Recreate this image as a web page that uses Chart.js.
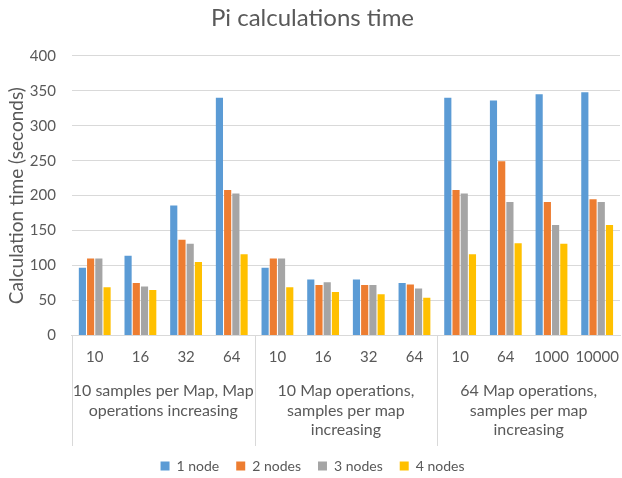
<!DOCTYPE html>
<html lang="en">
  <head>
    <meta charset="UTF-8" />
    <title>Pi calculations time</title>
    <script src="https://cdn.jsdelivr.net/npm/chart.js"></script>
    <style>
      html, body {
        margin: 0;
        padding: 0;
        background: #fff;
      }
      .wrap {
        width: 622px;
        height: 478px;
        position: relative;
      }
    </style>
  </head>
  <body>
    <div class="wrap">
      <canvas id="piChart"></canvas>
    </div>

    <script>
      // Categories (inner level) and groups (outer level)
      const labels = ["10", "16", "32", "64", "10", "16", "32", "64", "10", "64", "1000", "10000"];
      const groupLabels = [
        ["10 samples per Map, Map", "operations increasing"],
        ["10 Map operations,", "samples per map", "increasing"],
        ["64 Map operations,", "samples per map", "increasing"],
      ];
      const groupSize = 4;

      // Calculation time in seconds
      const node1 = [97, 114, 186, 340, 97, 80, 80, 75, 340, 336, 345, 348];
      const node2 = [110, 75, 137, 208, 110, 72, 72, 73, 208, 249, 191, 195];
      const node3 = [110, 70, 131, 203, 110, 76, 72, 67, 203, 191, 158, 191];
      const node4 = [69, 65, 105, 116, 69, 62, 59, 54, 116, 132, 131, 158];

      const yTicks = { min: 0, max: 400, step: 50 };

      const textColor = "#595959";
      const lineColor = "#d9d9d9";
      const fontFamily = "Lato, 'Open Sans', sans-serif";

      // Lines between the outer category groups, as in Excel
      const groupDividers = {
        id: "groupDividers",
        afterDraw(chart) {
          const x = chart.scales.x;
          const x2 = chart.scales.x2;
          const half = (x.getPixelForValue(1) - x.getPixelForValue(0)) / 2;
          const ctx = chart.ctx;
          ctx.save();
          ctx.strokeStyle = lineColor;
          ctx.lineWidth = 1;
          for (let i = 0; i < labels.length; i += groupSize) {
            const px = Math.round(x.getPixelForValue(i) - half) + 0.5;
            ctx.beginPath();
            ctx.moveTo(px, chart.chartArea.bottom);
            ctx.lineTo(px, x2.bottom + 4);
            ctx.stroke();
          }
          ctx.restore();
        },
      };

      const makeSet = (label, data, color) => ({
        label: label,
        data: data,
        backgroundColor: color,
        borderWidth: 0,
        categoryPercentage: 0.72,
        barPercentage: 0.87,
      });

      new Chart(document.getElementById("piChart"), {
        type: "bar",
        data: {
          labels: labels,
          datasets: [
            makeSet("1 node", node1, "#5B9BD5"),
            makeSet("2 nodes", node2, "#ED7D31"),
            makeSet("3 nodes", node3, "#A5A5A5"),
            makeSet("4 nodes", node4, "#FFC000"),
          ],
        },
        options: {
          responsive: true,
          maintainAspectRatio: false,
          animation: false,
          layout: {
            padding: { left: 5, right: 2, top: 2, bottom: -5 },
          },
          plugins: {
            title: {
              display: true,
              text: "Pi calculations time",
              color: textColor,
              font: { family: fontFamily, size: 24, weight: "normal" },
              padding: { top: 2, bottom: 23 },
            },
            legend: {
              position: "bottom",
              labels: {
                color: textColor,
                font: { family: fontFamily, size: 14 },
                boxWidth: 9,
                boxHeight: 9,
                padding: 17,
              },
            },
            tooltip: { enabled: false },
          },
          scales: {
            x: {
              grid: { display: false, drawTicks: false },
              border: { display: true, color: lineColor },
              ticks: {
                color: textColor,
                font: { family: fontFamily, size: 15, lineHeight: 2.9 },
                maxRotation: 0,
                autoSkip: false,
                padding: 0,
              },
            },
            x2: {
              type: "category",
              position: "bottom",
              weight: 1,
              labels: groupLabels,
              offset: true,
              grid: { display: false, drawTicks: false },
              border: { display: false },
              ticks: {
                color: textColor,
                font: { family: fontFamily, size: 16, lineHeight: 1.23 },
                maxRotation: 0,
                autoSkip: false,
                padding: 2,
              },
            },
            y: {
              min: yTicks.min,
              max: yTicks.max,
              grid: { color: lineColor, drawTicks: false },
              border: { display: false },
              ticks: {
                stepSize: yTicks.step,
                color: textColor,
                font: { family: fontFamily, size: 15 },
                padding: 16,
              },
              title: {
                display: true,
                text: "Calculation time (seconds)",
                color: textColor,
                font: { family: fontFamily, size: 19 },
                padding: { top: 0, bottom: -14 },
              },
            },
          },
        },
        plugins: [groupDividers],
      });
    </script>
  </body>
</html>
